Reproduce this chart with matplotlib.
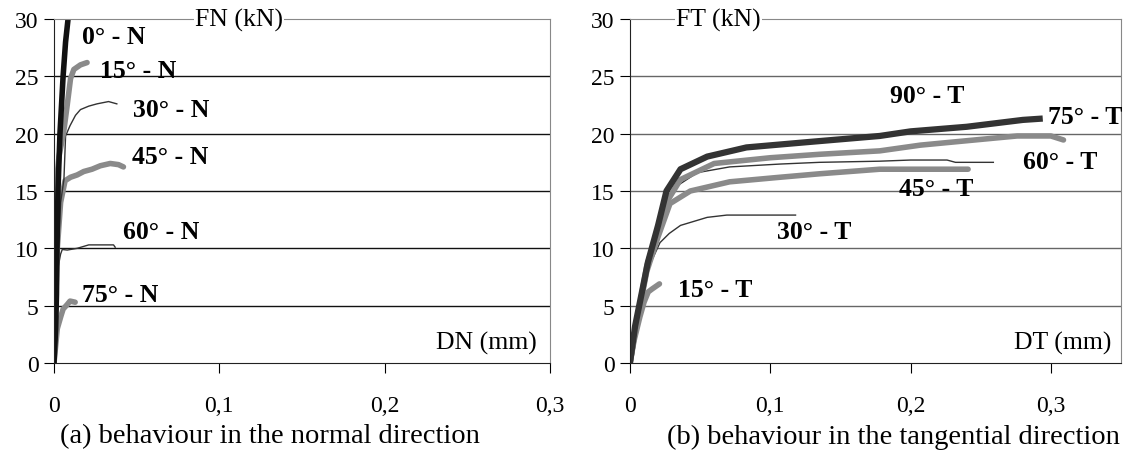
import numpy as np
import matplotlib.pyplot as plt

plt.rcParams['font.family'] = ['Liberation Serif', 'DejaVu Serif']

# normal direction curves: DN (mm), FN (kN)
dn_0 = [0, 0.001, 0.0015, 0.0018, 0.0024, 0.0036, 0.0055, 0.007, 0.0085]
fn_0 = [0, 3, 6, 10, 15, 20, 25, 28, 30]
dn_15 = [0, 0.000, 0.001, 0.003, 0.005, 0.006, 0.008, 0.010, 0.012, 0.016, 0.020]
fn_15 = [0, 8, 15, 18, 19.5, 20.3, 22.5, 24.8, 25.6, 26.0, 26.2]
dn_30 = [0, 0.002, 0.004, 0.006, 0.007, 0.0097, 0.013, 0.016, 0.021, 0.026, 0.033, 0.038]
fn_30 = [0, 8, 14, 16, 19.8, 20.7, 21.6, 22.1, 22.4, 22.6, 22.8, 22.6]
dn_45 = [0, 0.001, 0.002, 0.004, 0.0067, 0.010, 0.014, 0.018, 0.023, 0.028, 0.034, 0.039, 0.042]
fn_45 = [0, 5, 10, 14, 15.9, 16.2, 16.4, 16.7, 16.9, 17.2, 17.4, 17.3, 17.1]
dn_60 = [0, 0.001, 0.002, 0.004, 0.005, 0.008, 0.014, 0.021, 0.030, 0.036, 0.037]
fn_60 = [0, 4, 8, 9.5, 9.9, 9.85, 10.0, 10.3, 10.3, 10.3, 10.1]
dn_75 = [0, 0.001, 0.002, 0.004, 0.0055, 0.008, 0.0097, 0.0128]
fn_75 = [0, 1.5, 3.0, 4.0, 4.7, 5.1, 5.4, 5.3]

# tangential direction curves: DT (mm), FT (kN)
dt_90 = [0, 0.0036, 0.0128, 0.020, 0.026, 0.036, 0.055, 0.083, 0.13, 0.178, 0.20, 0.24, 0.26, 0.28, 0.292]
ft_90 = [0, 3.2, 8.8, 12.0, 15.0, 16.9, 18.0, 18.8, 19.3, 19.8, 20.2, 20.6, 20.9, 21.2, 21.3]
dt_75 = [0, 0.004, 0.012, 0.020, 0.026, 0.036, 0.060, 0.10, 0.135, 0.178, 0.207, 0.25, 0.276, 0.30, 0.309]
ft_75 = [0, 3.0, 8.5, 11.5, 14.0, 16.0, 17.4, 17.9, 18.2, 18.5, 19.0, 19.5, 19.8, 19.8, 19.45]
dt_60 = [0, 0.004, 0.012, 0.020, 0.026, 0.033, 0.048, 0.071, 0.107, 0.135, 0.178, 0.20, 0.226, 0.232, 0.259]
ft_60 = [0, 3.0, 8.5, 11.5, 14.0, 15.4, 16.6, 17.1, 17.35, 17.5, 17.6, 17.7, 17.7, 17.5, 17.5]
dt_45 = [0, 0.004, 0.012, 0.020, 0.0285, 0.043, 0.071, 0.107, 0.135, 0.178, 0.207, 0.241]
ft_45 = [0, 3.0, 8.0, 11.0, 13.9, 15.0, 15.8, 16.2, 16.5, 16.9, 16.9, 16.9]
dt_30 = [0, 0.004, 0.012, 0.0214, 0.028, 0.036, 0.055, 0.069, 0.090, 0.118]
ft_30 = [0, 3.0, 8.0, 10.5, 11.3, 12.0, 12.7, 12.9, 12.9, 12.9]
dt_15 = [0, 0.003, 0.007, 0.010, 0.013, 0.0157, 0.021]
ft_15 = [0, 2.0, 4.0, 5.3, 6.2, 6.45, 6.9]

labels_n = ['0° - N', '15° - N', '30° - N', '45° - N', '60° - N', '75° - N']
label_pos_n = [(0.017, 28.5), (0.028, 25.5), (0.048, 22.1), (0.047, 18.0), (0.042, 11.5), (0.017, 6.0)]
labels_t = ['90° - T', '75° - T', '60° - T', '45° - T', '30° - T', '15° - T']
label_pos_t = [(0.185, 23.3), (0.298, 21.5), (0.280, 17.6), (0.192, 15.2), (0.105, 11.5), (0.034, 6.4)]

dark = '#111111'
thick_dark = '#333333'
gray = '#8a8a8a'
thin = '#333333'

fig = plt.figure(figsize=(11.26, 4.52), dpi=100)
ax1 = fig.add_axes([54/1126, 1-364/452, 496/1126, 344/452])
ax2 = fig.add_axes([630/1126, 1-364/452, 491/1126, 344/452])

def style(ax, xmax, gridc):
    ax.set_xlim(0, xmax)
    ax.set_ylim(0, 30)
    ax.set_xticks([0, 0.1, 0.2, 0.3])
    ax.set_xticklabels(['0', '0,1', '0,2', '0,3'])
    ax.set_yticks(range(0, 31, 5))
    for y in range(5, 30, 5):
        ax.axhline(y, color=gridc, lw=1, zorder=0)
    ax.spines['top'].set_color('#888888')
    ax.spines['right'].set_color('#888888')
    ax.spines['left'].set_color('#222222')
    ax.spines['bottom'].set_color('#222222')
    ax.tick_params(axis='x', direction='out', length=7, pad=16, labelsize=17)
    ax.tick_params(axis='y', direction='out', length=7, pad=4, labelsize=17)

style(ax1, 0.3, '#111111')
style(ax2, 0.35, '#666666')

# left panel
ax1.plot(dn_75, fn_75, color=gray, lw=4, solid_capstyle='round')
ax1.plot(dn_60, fn_60, color=thin, lw=1)
ax1.plot(dn_45, fn_45, color=gray, lw=4, solid_capstyle='round')
ax1.plot(dn_30, fn_30, color=thin, lw=1)
ax1.plot(dn_15, fn_15, color=gray, lw=4, solid_capstyle='round')
ax1.plot(dn_0, fn_0, color=dark, lw=4)
for lab, (x, y) in zip(labels_n, label_pos_n):
    ax1.text(x, y, lab, fontsize=18.5, fontweight='bold', va='center', ha='left')
ax1.text(0.112, 30, 'FN (kN)', fontsize=18.5, ha='center', va='center',
         bbox=dict(facecolor='white', edgecolor='none', pad=1))
ax1.text(0.292, 1.8, 'DN (mm)', fontsize=18.5, ha='right', va='center',
         bbox=dict(facecolor='white', edgecolor='none', pad=1))

# right panel
ax2.plot(dt_15, ft_15, color=gray, lw=4, solid_capstyle='round')
ax2.plot(dt_30, ft_30, color=thin, lw=1)
ax2.plot(dt_45, ft_45, color=gray, lw=4, solid_capstyle='round')
ax2.plot(dt_60, ft_60, color=thin, lw=1)
ax2.plot(dt_75, ft_75, color=gray, lw=4, solid_capstyle='round')
ax2.plot(dt_90, ft_90, color=thick_dark, lw=4.5)
for lab, (x, y) in zip(labels_t, label_pos_t):
    ax2.text(x, y, lab, fontsize=18.5, fontweight='bold', va='center', ha='left')
ax2.text(0.063, 30, 'FT (kN)', fontsize=18.5, ha='center', va='center',
         bbox=dict(facecolor='white', edgecolor='none', pad=1))
ax2.text(0.343, 1.8, 'DT (mm)', fontsize=18.5, ha='right', va='center',
         bbox=dict(facecolor='white', edgecolor='none', pad=1))

fig.text(270/1126, 1-437/452, '(a) behaviour in the normal direction', fontsize=20.5, ha='center', va='center')
fig.text(893/1126, 1-437/452, '(b) behaviour in the tangential direction', fontsize=20.5, ha='center', va='center')

fig.savefig('out.png', dpi=100)
